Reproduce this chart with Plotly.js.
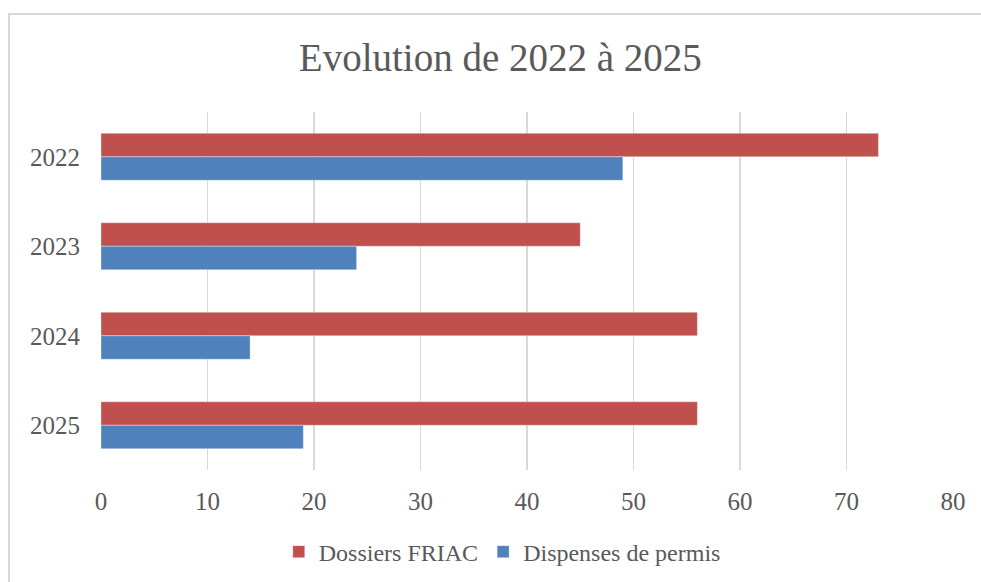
<!DOCTYPE html>
<html>
<head>
<meta charset="utf-8">
<script src="https://cdn.plot.ly/plotly-3.0.1.min.js"></script>
<style>html,body{margin:0;padding:0;background:#fff;}#chart{width:981px;height:582px;}</style>
</head>
<body>
<div id="chart"></div>
<script>
const years = ["2022", "2023", "2024", "2025"];
const dossiersFriac = [73, 45, 56, 56];
const dispensesPermis = [49, 24, 14, 19];
const seriesNames = ["Dossiers FRIAC", "Dispenses de permis"];
const xTicks = [0, 10, 20, 30, 40, 50, 60, 70, 80];

const font = "Liberation Serif, Times New Roman, serif";
const textColor = "#595959";

const traces = [
  {
    type: "bar", orientation: "h", name: seriesNames[0],
    y: years, x: dossiersFriac,
    marker: {color: "#C0504D", line: {color: "rgba(255,255,255,0.45)", width: 0.8}},
    hoverinfo: "x+name"
  },
  {
    type: "bar", orientation: "h", name: seriesNames[1],
    y: years, x: dispensesPermis,
    marker: {color: "#4F81BD", line: {color: "rgba(255,255,255,0.45)", width: 0.8}},
    hoverinfo: "x+name"
  }
];

const layout = {
  width: 981, height: 582,
  margin: {l: 101, r: 28, t: 112, b: 112, autoexpand: false},
  paper_bgcolor: "#ffffff", plot_bgcolor: "#ffffff",
  font: {family: font, color: textColor, size: 25},
  barmode: "group",
  bargap: 0.475,
  bargroupgap: 0,
  title: {
    text: "Evolution de 2022 à 2025",
    font: {family: font, size: 39, color: textColor},
    xref: "container", yref: "container",
    x: 0.510, xanchor: "center",
    y: 0.902, yanchor: "middle"
  },
  xaxis: {
    range: [0, 80],
    tickmode: "array", tickvals: xTicks, ticktext: xTicks.map(String),
    showgrid: true, gridcolor: "#d9d9d9", gridwidth: 1.5,
    zeroline: false, showline: false, ticks: "",
    ticklabelstandoff: 14,
    tickfont: {family: font, size: 25, color: textColor},
    automargin: false,
    fixedrange: true
  },
  yaxis: {
    type: "category",
    categoryorder: "array", categoryarray: years,
    range: [3.5, -0.5],
    showgrid: false, zeroline: false, showline: false, ticks: "",
    ticklabelstandoff: 20,
    tickfont: {family: font, size: 25, color: textColor},
    automargin: false,
    fixedrange: true
  },
  legend: {
    orientation: "h",
    xref: "container", yref: "container",
    x: 0.512, xanchor: "center",
    y: 0.0515, yanchor: "middle",
    font: {family: font, size: 24, color: textColor},
    traceorder: "normal",
    itemwidth: 30
  },
  shapes: [
    {
      type: "rect", xref: "paper", yref: "paper",
      x0: -0.108, x1: 1.05, y0: -0.4, y1: 1.2737,
      line: {color: "#d9d9d9", width: 2}, fillcolor: "rgba(0,0,0,0)",
      layer: "below"
    }
  ],
  showlegend: true
};

Plotly.newPlot("chart", traces, layout, {displayModeBar: false, staticPlot: true});
</script>
</body>
</html>
